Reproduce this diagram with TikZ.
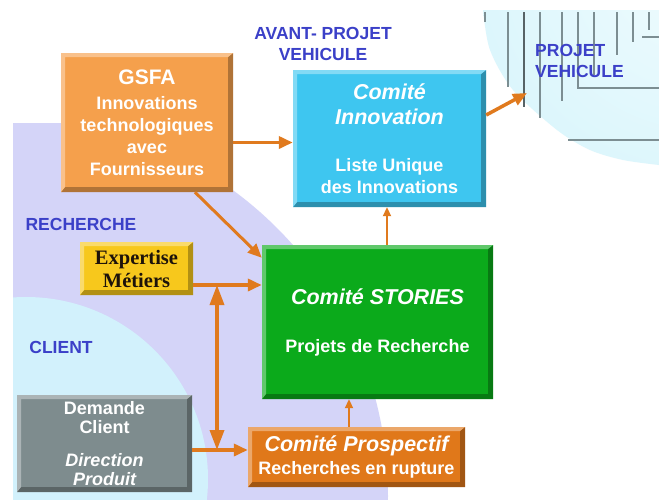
\documentclass[tikz,border=0pt]{standalone}
\usepackage{fontspec}
\setmainfont{Liberation Sans}
\newfontfamily\serifb{Liberation Serif}
\usetikzlibrary{arrows.meta}
\definecolor{lav}{HTML}{D4D4F8}
\definecolor{cli}{HTML}{D2F1FC}
\definecolor{projin}{HTML}{F0FCFE}
\definecolor{projout}{HTML}{C8F0FA}
\definecolor{lblue}{HTML}{3B40C8}
\definecolor{arrc}{HTML}{E07A1E}
\definecolor{gsfac}{HTML}{F5A04C}
\definecolor{innc}{HTML}{3EC6F0}
\definecolor{expc}{HTML}{F7C81C}
\definecolor{stoc}{HTML}{0BAA1B}
\definecolor{demc}{HTML}{7E8C8E}
\definecolor{proc}{HTML}{E0781A}
\definecolor{vline}{HTML}{7C8E92}
\newcommand{\bodyf}{\fontsize{18}{22}\selectfont\bfseries}
\newcommand{\titf}{\fontsize{21.5}{25}\selectfont\bfseries\itshape}
\begin{document}
\begin{tikzpicture}[x=1pt,y=-1pt,
  bevel/.style={fill=#1, path picture={
    \path (path picture bounding box.south west) coordinate (ppsw)
          (path picture bounding box.north east) coordinate (ppne)
          (path picture bounding box.north west) coordinate (ppnw)
          (path picture bounding box.south east) coordinate (ppse);
    \fill[#1!72!black] (ppsw) -- (ppse) -- (ppne) -- ([xshift=-5pt,yshift=-4pt]ppne)
       -- ([xshift=-5pt,yshift=5pt]ppse) -- ([xshift=4pt,yshift=5pt]ppsw) -- cycle;
    \fill[#1!65!white] (ppsw) -- (ppnw) -- (ppne) -- ([xshift=-5pt,yshift=-4pt]ppne)
       -- ([xshift=4pt,yshift=-4pt]ppnw) -- ([xshift=4pt,yshift=5pt]ppsw) -- cycle;
  }},
  box/.style={rectangle, inner sep=0pt, draw=none, text=white, align=center,
    font=\bodyf, bevel=#1},
  lbl/.style={text=lblue, font=\fontsize{17.5}{21}\selectfont\bfseries, inner sep=0pt},
  vl/.style={draw=vline, line width=1.2pt},
  arr/.style={draw=arrc, line width=3.5pt, -{Triangle[length=14pt,width=12pt]}},
  tarr/.style={draw=arrc, line width=2pt, -{Triangle[length=9pt,width=8pt]}},
  darr/.style={draw=arrc, line width=3.5pt,
    {Triangle[length=20pt,width=14pt]}-{Triangle[length=20pt,width=14pt]}}
]
\useasboundingbox (0,0) rectangle (659,499);
\fill[white] (0,0) rectangle (659,499);
% background regions
\begin{scope}
  \clip (13,123) rectangle (659,499);
  \fill[lav] (9,496) circle (379pt);
  \fill[cli] (26,479) circle (182pt);
\end{scope}
\begin{scope}
  \clip plot[smooth] coordinates {(483,10) (490,50) (513,90) (557,130) (590,150) (623,160) (659,165)}
     -- (659,10) -- cycle;
  \shade[inner color=projin, outer color=projout] (700,-40) circle (450pt);
\end{scope}
% lines in PROJET VEHICULE area
\draw[vl] (485,12) -- (485,22);
\draw[vl] (508,12) -- (508,87);
\draw[vl, line width=1.8pt, draw=vline!70!black] (524,12) -- (524,107);
\draw[vl] (540,12) -- (540,118);
\draw[vl] (562,12) -- (562,101);
\draw[vl] (578,12) -- (578,88) -- (659,88);
\draw[vl] (594,12) -- (594,75);
\draw[vl] (617,12) -- (617,55);
\draw[vl] (633,12) -- (633,42);
\draw[vl] (649,12) -- (649,30);
\draw[vl] (642,37) -- (659,37);
\draw[vl] (568,140) -- (659,140);
% labels
\node[lbl, align=center] (avp) at (323,44) {AVANT- PROJET\\VEHICULE};
\node[lbl, align=left, anchor=west] (pv) at (535,61) {PROJET\\VEHICULE};
\node[lbl] (rech) at (81,224) {RECHERCHE};
\node[lbl] (clt) at (61,347) {CLIENT};
% boxes
\node[box=gsfac, minimum width=172pt, minimum height=139pt] (gsfa) at (147,122.5)
  {{\fontsize{21}{25}\selectfont GSFA}\\[3pt]Innovations\\technologiques\\avec\\Fournisseurs};
\node[box=innc, minimum width=193pt, minimum height=137pt] (innov) at (389.5,138.5)
  {{\titf Comité}\\[3pt]{\titf Innovation}\\[25pt]Liste Unique\\des Innovations};
\node[box=expc, minimum width=113pt, minimum height=53pt, text=black!85!brown,
      font=\serifb\bfseries\fontsize{20.5}{23}\selectfont] (exp) at (136.5,268.5)
  {Expertise\\Métiers};
\node[box=stoc, minimum width=231pt, minimum height=154pt] (sto) at (377.5,322)
  {{\titf Comité STORIES}\\[26pt]Projets de Recherche};
\node[box=demc, minimum width=175pt, minimum height=97pt,
      font=\fontsize{18}{18.5}\selectfont\bfseries] (dem) at (104.5,443.5)
  {Demande\\Client\\[15pt]{\itshape Direction}\\{\itshape Produit}};
\node[box=proc, minimum width=217pt, minimum height=60pt] (pro) at (356.5,457)
  {{\titf Comité Prospectif}\\[1pt]Recherches en rupture};
% connectors
\coordinate (pvtip) at (527,93);
\coordinate (jx) at (217,0);
\draw[arr] ([yshift=-20pt]gsfa.east) coordinate (a1) -- (a1 -| innov.west);
\draw[arr] ([yshift=23.5pt]innov.east) -- (pvtip);
\draw[arr, line width=3pt] ([xshift=48pt]gsfa.south) -- ([yshift=-13pt]sto.north west);
\draw[tarr] ([xshift=9.5pt]sto.north) coordinate (a4) -- (a4 |- innov.south);
\draw[arr] ([yshift=-16.5pt]exp.east) coordinate (a5) -- (a5 -| sto.west);
\draw[arr] ([yshift=-6.5pt]dem.east) coordinate (a7) -- (a7 -| pro.west);
\draw[darr] (jx |- a5) -- (jx |- a7);
\draw[tarr] ([xshift=-7.5pt]pro.north) coordinate (a8) -- (a8 |- sto.south);
\end{tikzpicture}
\end{document}
